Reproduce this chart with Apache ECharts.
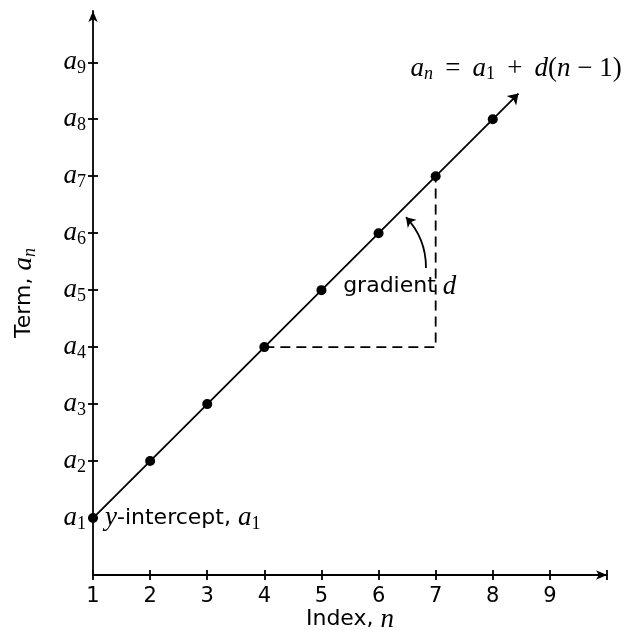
<!DOCTYPE html>
<html>
<head>
  <meta charset="UTF-8">
  <title>Arithmetic sequence</title>
  <style>
    html, body { margin: 0; padding: 0; background: #fff; }
    #myChart { width: 628px; height: 630px; }
  </style>
</head>
<body>
  <div id="myChart"></div>
  <script src="https://cdn.jsdelivr.net/npm/echarts@6/dist/echarts.min.js"></script>
  <script>
    // data
    const indexN = [1, 2, 3, 4, 5, 6, 7, 8];
    const terms = [1, 2, 3, 4, 5, 6, 7, 8];
    const xTicks = [1, 2, 3, 4, 5, 6, 7, 8, 9, 10];
    const xTickLabels = ['1', '2', '3', '4', '5', '6', '7', '8', '9', ''];
    const yTicks = [1, 2, 3, 4, 5, 6, 7, 8, 9];
    const lineEnds = [[1, 1], [8.45, 8.45]];
    const stepPath = [[4, 4], [7, 4], [7, 7]];
    const curveArrow = [[6.83, 5.39], [6.48, 6.28]];
    const formulaAt = [8.41, 8.89];
    const gradientAt = [5.38, 5.06];

    const serif = '"Liberation Serif", "DejaVu Serif", serif';
    const sans = '"DejaVu Sans", sans-serif';
    const black = '#000';
    const thin = '\u2009';

    const mathRich = {
      a: { fontFamily: serif, fontStyle: 'italic', fontSize: 27, color: black },
      s: { fontFamily: serif, fontSize: 18, color: black, padding: [12, 0, 0, 0] },
      si: { fontFamily: serif, fontStyle: 'italic', fontSize: 18, color: black, padding: [12, 0, 0, 0] },
      t: { fontFamily: sans, fontSize: 22, color: black },
      d: { fontFamily: sans, fontSize: 21, color: black },
      r: { fontFamily: serif, fontSize: 27, color: black }
    };

    const myChart = echarts.init(document.getElementById('myChart'));
    const option = {
      animation: false,
      grid: { left: 93, right: 21, top: 11, bottom: 55, containLabel: false, outerBoundsMode: 'none' },
      xAxis: [{
        type: 'value', min: 1, max: 10, interval: 1,
        axisLine: { onZero: false, lineStyle: { color: black, width: 1.8 }, symbol: ['none', 'arrow'], symbolSize: [7, 11] },
        axisTick: { show: true, length: 5, customValues: xTicks, lineStyle: { color: black, width: 1.8 } },
        axisLabel: {
          customValues: xTicks, margin: 11,
          formatter: v => '{d|' + (xTickLabels[xTicks.indexOf(v)] || '') + '}',
          rich: mathRich
        },
        splitLine: { show: false },
        name: '{t|Index, }{a|n}', nameLocation: 'middle', nameGap: 31, nameMoveOverlap: false,
        nameTextStyle: { rich: mathRich }
      }, {
        type: 'value', min: 1, max: 10, position: 'bottom',
        axisLine: { show: false, onZero: false },
        axisTick: { show: true, inside: true, length: 5, customValues: xTicks, lineStyle: { color: black, width: 1.8 } },
        axisLabel: { show: false },
        splitLine: { show: false }
      }],
      yAxis: [{
        type: 'value', min: 0, max: 9.9, interval: 1,
        axisLine: { onZero: false, lineStyle: { color: black, width: 1.8 }, symbol: ['none', 'arrow'], symbolSize: [7, 11] },
        axisTick: { show: true, length: 5, customValues: yTicks, lineStyle: { color: black, width: 1.8 } },
        axisLabel: {
          customValues: yTicks, margin: 7,
          formatter: v => '{a|a}{s|' + v + '}',
          rich: mathRich
        },
        splitLine: { show: false },
        name: '{t|Term, }{a|a}{si|n}', nameLocation: 'middle', nameGap: 54,
        nameTextStyle: { rich: mathRich }
      }, {
        type: 'value', min: 0, max: 9.9, position: 'left',
        axisLine: { show: false, onZero: false },
        axisTick: { show: true, inside: true, length: 5, customValues: yTicks, lineStyle: { color: black, width: 1.8 } },
        axisLabel: { show: false },
        splitLine: { show: false }
      }],
      series: [
        {
          type: 'lines', coordinateSystem: 'cartesian2d', xAxisIndex: 0, yAxisIndex: 0,
          symbol: ['none', 'arrow'], symbolSize: 10,
          lineStyle: { color: black, width: 1.8, opacity: 1 },
          data: [{ coords: lineEnds }]
        },
        {
          type: 'line', xAxisIndex: 0, yAxisIndex: 0, symbol: 'none',
          lineStyle: { color: black, width: 1.8, type: [10, 6] },
          data: stepPath
        },
        {
          type: 'lines', coordinateSystem: 'cartesian2d', xAxisIndex: 0, yAxisIndex: 0,
          symbol: ['none', 'arrow'], symbolSize: 9,
          lineStyle: { color: black, width: 1.8, opacity: 1, curveness: -0.2 },
          data: [{ coords: curveArrow }]
        },
        {
          type: 'scatter', xAxisIndex: 0, yAxisIndex: 0, symbolSize: 10,
          itemStyle: { color: black, opacity: 1 },
          data: indexN.map((n, i) => {
            const p = { value: [n, terms[i]] };
            if (i === 0) {
              p.label = {
                show: true, position: 'right', distance: 7,
                formatter: '{a|y}{t|-intercept, }{a|a}{s|1}', rich: mathRich
              };
            }
            return p;
          })
        },
        {
          type: 'scatter', xAxisIndex: 0, yAxisIndex: 0, symbol: 'circle', symbolSize: 0.01, silent: true,
          itemStyle: { color: black, opacity: 1 },
          label: { show: true, position: [0, 0], verticalAlign: 'middle', color: black, rich: mathRich },
          data: [
            {
              value: formulaAt,
              label: {
                align: 'center',
                formatter: '{a|a}{si|n}{r|' + thin + ' = ' + thin + '}{a|a}{s|1}{r|' + thin + ' + ' + thin + '}{a|d}{r|(}{a|n}{r| − 1)}'
              }
            },
            {
              value: gradientAt,
              label: { align: 'left', formatter: '{t|gradient }{a|d}' }
            }
          ]
        }
      ]
    };
    myChart.setOption(option);
  </script>
</body>
</html>
